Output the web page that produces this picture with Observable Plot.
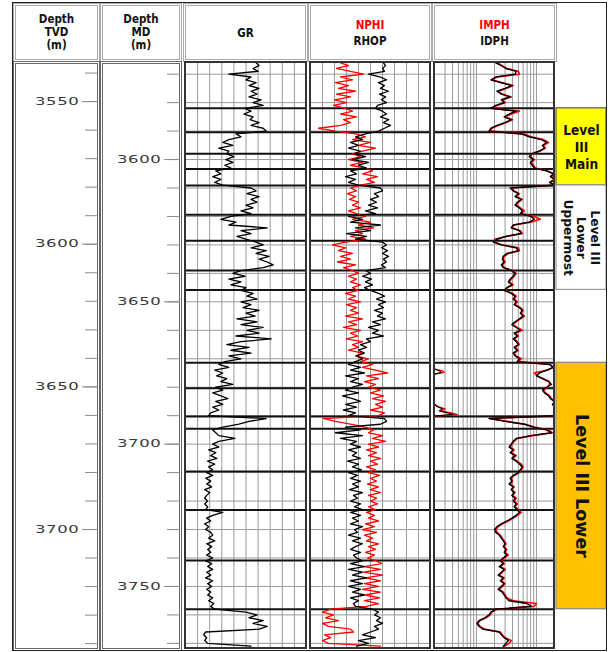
<!DOCTYPE html>
<html><head><meta charset="utf-8">
<script src="https://cdn.jsdelivr.net/npm/d3@7"></script>
<script src="https://cdn.jsdelivr.net/npm/@observablehq/plot@0.6"></script>
<style>
html,body{margin:0;padding:0;background:#fff;}
#root{position:relative;width:608px;height:652px;overflow:hidden;font-family:'DejaVu Sans Condensed','Liberation Sans',sans-serif;}
.hdr{position:absolute;box-sizing:border-box;border:3px double #aaa;display:flex;flex-direction:column;align-items:center;justify-content:center;font-weight:bold;font-size:11.5px;color:#111;}
.trk{position:absolute;box-sizing:border-box;border:2px solid #333;pointer-events:none;}
.col{position:absolute;box-sizing:border-box;border:3px double #666;}
.frame{position:absolute;box-sizing:border-box;border:1px solid #222;pointer-events:none;}
</style></head><body><div id="root"></div>
<script>
// ---------------- DATA ----------------
const mdStart = 3566, mdStep = 1;           // measured depth of first sample, sample step (m)
const grValues = [
70,73,67,72,43,65,60,70,63,73,
65,71,63,75,67,77,59,65,58,67,
64,73,65,77,80,50,55,43,37,47,
33,43,41,48,40,47,39,45,30,35,
27,35,29,37,65,70,61,73,65,71,
60,67,55,65,45,35,50,43,81,55,
65,51,60,70,77,65,80,70,83,73,
81,87,77,55,47,59,43,55,45,60,
55,67,61,71,55,65,57,73,60,69,
51,71,55,77,61,73,50,85,55,41,
63,45,65,43,55,39,33,43,29,37,
31,41,35,47,30,37,27,35,42,30,
37,27,33,25,23,80,63,53,37,27,
30,33,49,33,27,33,23,30,25,31,
22,29,23,27,21,27,20,25,21,26,
19,24,21,19,22,19,22,20,37,27,
21,25,19,23,20,25,27,23,29,21,
26,22,25,21,27,20,26,22,27,21,
25,20,27,22,26,21,25,22,27,23,
28,25,29,60,71,63,77,67,81,73,
20,18,21,19,22,65];
const nphiValues = [
30,26,32,25,18.5,30,24,32.5,26,31,
22.5,32,25,33,27,33.5,27.5,24,30,22,
28.5,25,30,41,32.5,22.5,17.5,24,15,21,
12.5,19,24,20,26,19,25,17.5,14,19,
11.5,17,13,20,25,22,26.5,22.5,25.5,21,
24,20,26,22,17.5,24,15,21,13.5,22.5,
19,25,17.5,27.5,34,27.5,31,24,30,25,
31.5,22.5,28.5,24,21,26,22,25,20,24,
21,27.5,22.5,26,20,27,22,25,21,27.5,
19,26,22,28.5,20,25,21.5,27,19,24,
21,26,19,22.5,16,20,14,19,12.5,6.5,
17,11,18,12.5,16,10,15,8.5,14,7.5,
12.5,9,15,8,11,38.5,32.5,25,17.5,13.5,
16,9,14,7.5,16,11,17,12,16,10,
15,11.5,17,12.5,16,10.5,15,12,16.5,11,
15,10,16,12,15,11.5,16,12.5,17,13,
16,11,17.5,13,19,12,18,14,17,11,
16,12.5,17.5,13,16.5,12,9.5,18,10,18.5,
9,17.5,10,18,11,19,10,17.5,10.5,18,
11,17,35,39,33.5,37.5,31,39,36,25,
23.5,38,35,39,36,10];
const rhopValues = [
2.43,2.45,2.42,2.44,2.28,2.40,2.46,2.38,2.44,2.40,
2.48,2.39,2.45,2.41,2.46,2.37,2.35,2.42,2.46,2.40,
2.48,2.43,2.50,2.44,2.38,2.25,2.15,2.22,2.10,2.18,
2.08,2.20,2.14,2.25,2.12,2.28,2.18,2.26,2.10,2.16,
2.05,2.15,2.08,2.18,2.40,2.42,2.34,2.38,2.30,2.36,
2.28,2.37,2.25,2.35,2.08,2.22,2.10,2.40,2.15,2.30,
2.06,2.26,2.15,2.42,2.46,2.41,2.47,2.42,2.48,2.43,
2.46,2.41,2.45,2.25,2.30,2.22,2.31,2.25,2.32,2.24,
2.30,2.38,2.44,2.36,2.45,2.38,2.43,2.34,2.42,2.37,
2.45,2.32,2.40,2.28,2.38,2.32,2.43,2.26,2.30,2.20,
2.26,2.18,2.24,2.16,2.22,2.15,2.08,2.20,2.10,2.24,
2.05,2.18,2.10,2.22,2.12,2.05,2.18,2.02,2.12,2.20,
2.05,2.16,2.03,2.15,2.08,2.44,2.46,2.40,2.05,2.20,
1.95,2.22,2.00,2.16,2.10,2.20,2.08,2.16,2.12,2.20,
2.07,2.18,2.12,2.21,2.08,2.17,2.10,2.20,2.12,2.18,
2.09,2.22,2.13,2.17,2.10,2.20,2.14,2.22,2.10,2.20,
2.12,2.18,2.10,2.22,2.14,2.17,2.08,2.20,2.12,2.22,
2.15,2.10,2.20,2.13,2.16,2.22,2.10,2.24,2.08,2.22,
2.12,2.26,2.10,2.22,2.08,2.20,2.12,2.24,2.10,2.18,
2.13,2.15,2.32,2.38,2.34,2.40,2.36,2.42,2.34,2.38,
2.30,2.22,2.35,2.18,2.28,2.16];
const idphValues = [
2.1,2.6,3.1,4.6,4.4,2.1,1.75,2.6,3.9,3.0,
2.2,2.6,3.65,2.6,2.9,2.1,1.75,4.6,3.5,2.9,
3.8,3.0,2.2,1.75,1.62,5.6,7.6,12.1,14.7,12.6,
13.6,11.2,8.2,7.6,8.9,7.9,8.5,9.2,14.7,19.2,
17.1,20,16.5,20,3.65,4.1,5.0,4.4,5.6,4.8,
4.4,5.2,5.8,5.4,8.2,9.2,7.6,4.1,3.8,5.2,
5.6,3.1,2.2,1.9,2.6,4.6,5.0,3.2,2.8,2.7,
2.9,2.6,2.8,3.8,4.4,4.1,3.65,3.4,3.9,3.2,
2.9,3.8,4.4,4.1,4.6,4.25,5.2,5.8,5.4,6.0,
5.2,4.4,3.9,4.6,5.4,4.25,4.8,4.1,4.6,5.0,
4.25,4.8,4.1,4.4,5.2,4.8,16.5,19.2,14.7,11.2,
10,12.6,15.9,17.8,14.7,12.6,13.6,15.9,17.1,20,
18.5,20,20,20,19.2,1.62,3.1,6.3,8.9,14.7,
17.8,8.2,4.6,4.1,3.8,3.5,4.1,3.65,4.4,3.9,
4.6,5.2,5.8,5.4,5.0,4.1,3.65,3.9,3.5,4.1,
3.8,4.25,3.9,4.4,4.1,4.6,4.25,4.8,5.2,4.6,
3.9,3.2,2.6,2.2,2.0,2.1,2.4,2.6,2.8,3.0,
2.8,3.1,2.9,3.2,2.8,2.5,2.8,2.4,2.9,2.6,
2.3,2.8,2.5,2.9,2.6,2.3,2.7,2.9,3.1,3.5,
7.0,8.2,2.1,1.75,1.62,1.38,1.1,1.02,1.1,1.28,
2.4,2.6,2.9,3.4,3.1,2.8];
const imphValues = [
2.2,2.7,3.2,5.0,5.2,2.2,1.8,2.7,4.1,3.1,
2.3,2.7,3.8,2.7,3.0,2.2,1.8,5.2,3.8,3.0,
4.0,3.1,2.3,1.8,1.7,6.3,8.0,13.1,15.9,13.1,
14.1,11.6,8.5,7.9,9.2,8.2,8.9,9.6,15.3,20,
17.8,20,17.1,20,3.8,4.25,5.2,4.6,5.8,5.0,
4.6,5.4,6.3,5.6,9.2,11.6,8.0,4.25,3.9,5.4,
5.8,3.2,2.0,2.0,2.7,5.0,5.2,3.4,2.9,2.8,
3.0,2.7,2.9,4.0,4.6,4.25,3.8,3.5,4.1,3.3,
3.0,4.0,4.6,4.25,4.8,4.4,5.4,6.0,5.6,6.3,
5.4,4.6,4.0,4.8,5.8,4.4,5.0,4.25,4.8,5.2,
4.4,5.0,4.25,4.6,5.6,5.0,17.1,19.2,15.3,9.2,
10.4,13.1,16.5,16.5,15.3,13.1,14.1,16.5,17.8,20,
19.2,20,20,20,19.2,1.7,3.2,6.5,9.2,15.9,
18.5,8.5,4.8,4.25,3.9,3.65,4.25,3.8,4.6,4.0,
4.8,5.6,6.0,5.6,5.2,4.25,3.8,4.0,3.65,4.25,
3.9,4.4,4.0,4.6,4.25,4.8,4.4,5.0,5.6,4.8,
4.1,3.4,2.7,2.3,2.1,2.2,2.5,2.7,2.9,3.1,
2.9,3.2,3.0,3.4,2.9,2.6,2.9,2.5,3.0,2.7,
2.4,2.9,2.6,3.0,2.7,2.4,2.8,3.0,3.2,4.1,
10.0,9.2,2.2,1.8,1.7,1.45,1.15,1.05,1.15,1.35,
2.5,2.7,3.0,3.8,3.5,2.9];
// resistivity readings wrapped to the left edge of the log track
const wrapDepth = [3673.6,3674.2,3674.8,3675.4, 3686.0,3686.8,3687.6,3688.3,3689.0,3689.6,3690.1];
const wrapGroup = [1,1,1,1, 2,2,2,2,2,2,2];
const wrapImph  = [0.2,0.27,0.29,0.2, 0.2,0.23,0.3,0.26,0.38,0.48,0.2];
const wrapIdph  = [0.2,0.24,0.26,0.2, 0.2,0.22,0.27,0.24,0.33,0.4,0.2];

const zoneTops = [3582.0,3590.4,3598.0,3603.3,3609.1,3619.4,3628.5,3639.0,3645.8,3671.4,3680.4,3690.3,3694.6,3709.6,3723.1,3740.9,3758.0];
const zoneLabel = ["Level\nIII\nMain","Level III\nLower\nUppermost","Level III Lower"];
const zoneTop   = [3582.0,3609.1,3671.4];
const zoneBase  = [3609.1,3645.8,3758.0];
const zoneFill  = ["#FFFF00","#FFFFFF","#FFC000"];
const zoneEdge  = ["#555555","#999999","#888888"];

const mdDomain  = [3565.9, 3771.8];
const tvdDomain = [3536.3, 3741.7];
const mdMinor  = [3570,3580,3590,3600,3610,3620,3630,3640,3650,3660,3670,3680,3690,3700,3710,3720,3730,3740,3750,3760,3770];
const mdMajor  = [3600,3650,3700,3750];
const tvdMinor = [3540,3550,3560,3570,3580,3590,3600,3610,3620,3630,3640,3650,3660,3670,3680,3690,3700,3710,3720,3730,3740];
const tvdMajor = [3550,3600,3650,3700];
const grGrid   = [12,24,36,48,60,72,84,96,108];
const nphiGrid = [39,33,27,21,15,9,3,-3,-9];
const resGrid  = [0.3,0.4,0.5,0.6,0.7,0.8,0.9,1,2,3,4,5,6,7,8,9,10];

const headers = [
  {lines:["Depth","TVD","(m)"], colors:["#111","#111","#111"]},
  {lines:["Depth","MD","(m)"], colors:["#111","#111","#111"]},
  {lines:["GR"], colors:["#111"]},
  {lines:["NPHI","RHOP"], colors:["#ff0000","#111"]},
  {lines:["IMPH","IDPH"], colors:["#ff0000","#111"]}
];

// ---------------- BUILD ----------------
const rows = grValues.map((g, i) => ({
  md: mdStart + i * mdStep, gr: g, nphi: nphiValues[i], rhop: rhopValues[i],
  idph: idphValues[i], imph: imphValues[i]
}));
const wraps = wrapDepth.map((d, i) => ({md: d, g: wrapGroup[i], imph: wrapImph[i], idph: wrapIdph[i]}));
const zones = zoneLabel.map((l, i) => ({label: l, top: zoneTop[i], base: zoneBase[i], fill: zoneFill[i], edge: zoneEdge[i]}));

const root = document.getElementById("root");
const H = 586, TOP = 62;
function div(cls, l, t, w, h) {
  const d = document.createElement("div");
  d.className = cls;
  Object.assign(d.style, {left: l + "px", top: t + "px", width: w + "px", height: h + "px"});
  root.appendChild(d);
  return d;
}
function put(el, l, t) {
  el.style.position = "absolute"; el.style.left = l + "px"; el.style.top = t + "px";
  root.appendChild(el);
  return el;
}

// header cells
const hdrPos = [[13,87,13],[100,82,13],[183,125,16],[308,124,16],[432,125,16]];
headers.forEach((h, i) => {
  const [l, w, lh] = hdrPos[i];
  const d = div("hdr", l, 3, w, 59);
  d.style.lineHeight = lh + "px";
  h.lines.forEach((t, j) => {
    const s = document.createElement("div");
    s.textContent = t; s.style.color = h.colors[j];
    d.appendChild(s);
  });
});

// depth columns
function depthColumn(width, domain, minor, major) {
  return Plot.plot({
    width, height: H, marginLeft: width, marginRight: 0, marginTop: 0, marginBottom: 0,
    style: {background: "transparent", fontFamily: "'DejaVu Sans', sans-serif", fontSize: "10px", color: "#3a3a3a", letterSpacing: "0.4px", overflow: "visible"},
    y: {domain, reverse: true},
    marks: [
      Plot.axisY(minor, {anchor: "left", tickSize: 13, tickFormat: () => "", stroke: "#8a8a8a", label: null}),
      Plot.axisY(major, {anchor: "left", tickSize: 16, tickPadding: 3, tickFormat: d => String(d), stroke: "#8a8a8a", label: null})
    ]
  });
}
// widen the depth numerals horizontally about their right end (needs the svg in the DOM)
function widen(svg, k) {
  svg.querySelectorAll("text").forEach(t => {
    if (!t.textContent) return;
    const b = t.getBBox();
    const r = b.x + b.width, cy = b.y + b.height / 2;
    const tr = t.getAttribute("transform") || "";
    t.setAttribute("transform", `${tr} translate(${r},${cy}) scale(${k},1) translate(${-r},${-cy})`);
  });
}
div("col", 13, 61, 87, 590);
div("col", 100, 61, 82, 590);
widen(put(depthColumn(84, tvdDomain, tvdMinor, tvdMajor), 14, TOP), 1.65);
widen(put(depthColumn(79, mdDomain, mdMinor, mdMajor), 101, TOP), 1.65);

const yScale = {domain: mdDomain, reverse: true, axis: null};
const gridMarks = (xGrid) => [
  Plot.ruleX(xGrid, {stroke: "#9a9a9a", strokeWidth: 1}),
  Plot.ruleY(mdMinor, {stroke: "#9a9a9a", strokeWidth: 1}),
  Plot.ruleY(zoneTops, {stroke: "#111", strokeWidth: 2})
];

// GR track
put(Plot.plot({
  width: 121, height: H, margin: 0,
  x: {domain: [0, 120], axis: null}, y: yScale,
  marks: [...gridMarks(grGrid), Plot.line(rows, {x: "gr", y: "md", stroke: "#000", strokeWidth: 1.3, clip: true})]
}), 185, TOP);
div("trk", 184, 61, 123, 588);

// NPHI / RHOP track (two scales, two layers)
put(Plot.plot({
  width: 120, height: H, margin: 0,
  x: {domain: [45, -15], axis: null}, y: yScale,
  marks: [...gridMarks(nphiGrid), Plot.line(rows, {x: "nphi", y: "md", stroke: "#ff0000", strokeWidth: 1.3, clip: true})]
}), 310, TOP);
put(Plot.plot({
  width: 120, height: H, margin: 0, style: {background: "transparent"},
  x: {domain: [1.7, 2.9], axis: null}, y: yScale,
  marks: [Plot.line(rows, {x: "rhop", y: "md", stroke: "#000", strokeWidth: 1.3, clip: true})]
}), 310, TOP);
div("trk", 309, 61, 122, 588);

// Resistivity track (log)
put(Plot.plot({
  width: 120, height: H, margin: 0,
  x: {type: "log", domain: [0.2, 20], axis: null}, y: yScale,
  marks: [
    ...gridMarks(resGrid),
    Plot.line(wraps, {x: "imph", y: "md", z: "g", stroke: "#ff0000", strokeWidth: 1.3, clip: true}),
    Plot.line(wraps, {x: "idph", y: "md", z: "g", stroke: "#000", strokeWidth: 1.1, clip: true}),
    Plot.line(rows, {x: "imph", y: "md", stroke: "#ff0000", strokeWidth: 1.6, clip: true}),
    Plot.line(rows, {x: "idph", y: "md", stroke: "#000", strokeWidth: 1.4, clip: true})
  ]
}), 434, TOP);
div("trk", 433, 61, 122, 588);

// Zone column
const condFont = "'DejaVu Sans Condensed','Liberation Sans',sans-serif";
const wideFont = "'DejaVu Sans',sans-serif";
put(Plot.plot({
  width: 52, height: H, margin: 0, style: {background: "transparent"},
  color: {type: "identity"},
  y: yScale,
  marks: [
    Plot.rect(zones, {y1: "top", y2: "base", fill: "fill", stroke: "edge", strokeWidth: 1.2, insetLeft: 1, insetRight: 1}),
    Plot.text(zones, {filter: (d, i) => i === 0, y: d => (d.top + d.base) / 2, text: "label", fontSize: 13.5, fontWeight: "bold", fontFamily: condFont, lineHeight: 1.25, fill: "#111"}),
    Plot.text(zones, {filter: (d, i) => i === 1, y: d => (d.top + d.base) / 2, text: "label", rotate: 90, fontSize: 12.3, fontWeight: "bold", fontFamily: wideFont, lineHeight: 1.1, fill: "#111"}),
    Plot.text(zones, {filter: (d, i) => i === 2, y: d => (d.top + d.base) / 2, text: "label", rotate: 90, fontSize: 17.5, fontWeight: "bold", fontFamily: wideFont, fill: "#111"})
  ]
}), 555, TOP);

// outer frame
div("frame", 12, 2, 595, 649);
</script></body></html>
